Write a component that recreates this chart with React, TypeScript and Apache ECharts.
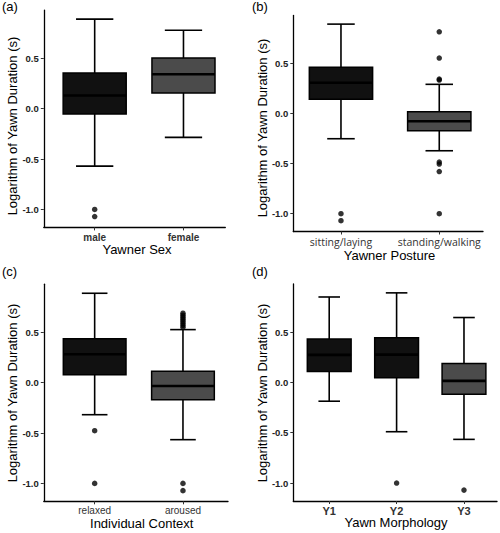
import React, { useEffect, useRef } from "react";
import * as echarts from "echarts";

// ---------- data ----------
// box stats: [lowerWhisker, Q1, median, Q3, upperWhisker]
const sexCats = ["male", "female"];
const sexStats = [
  [-0.57, -0.053, 0.13, 0.354, 0.888],
  [-0.285, 0.156, 0.341, 0.503, 0.778],
];
const sexOutliers = [
  [1, -1.0],
  [1, -1.07],
];

const postureCats = ["sitting/laying", "standing/walking"];
const postureStats = [
  [-0.252, 0.142, 0.307, 0.461, 0.892],
  [-0.372, -0.172, -0.078, 0.018, 0.291],
];
const postureOutliers = [
  [1, -1.0],
  [1, -1.07],
  [2, 0.815],
  [2, 0.553],
  [2, 0.334],
  [2, 0.344],
  [2, -0.485],
  [2, -0.505],
  [2, -0.58],
  [2, -1.0],
];

const contextCats = ["relaxed", "aroused"];
const contextStats = [
  [-0.318, 0.079, 0.282, 0.437, 0.888],
  [-0.566, -0.169, -0.033, 0.113, 0.527],
];
const contextOutliers = [
  [1, -0.477],
  [1, -1.0],
  [2, 0.55],
  [2, 0.57],
  [2, 0.59],
  [2, 0.61],
  [2, 0.63],
  [2, 0.65],
  [2, 0.67],
  [2, 0.69],
  [2, -1.0],
  [2, -1.072],
];

const morphCats = ["Y1", "Y2", "Y3"];
const morphStats = [
  [-0.187, 0.107, 0.273, 0.432, 0.848],
  [-0.49, 0.045, 0.276, 0.442, 0.889],
  [-0.566, -0.117, 0.015, 0.187, 0.644],
];
const morphOutliers = [
  [2, -1.0],
  [3, -1.07],
];

// fill shade index per box (0 = dark, 1 = grey)
const sexShade = [0, 1];
const postureShade = [0, 1];
const contextShade = [0, 1];
const morphShade = [0, 0, 1];

const yTicks = [-1, -0.5, 0, 0.5];
const panelLabels = ["(a)", "(b)", "(c)", "(d)"];
const xTitles = ["Yawner Sex", "Yawner Posture", "Individual Context", "Yawn Morphology"];
const yTitle = "Logarithm of Yawn Duration (s)";

// ---------- styling / layout ----------
const FILLS = ["#111111", "#4b4b4b"];
const FONT = "Liberation Sans, Arial, sans-serif";

type Panel = {
  cats: string[];
  stats: number[][];
  outliers: number[][];
  shade: number[];
  grid: { left: number; top: number; width: number; height: number };
  xRange: [number, number];
  boxW: number;
  capW: number;
  labelFont: any;
  labelMargin: number;
};

const panels: Panel[] = [
  {
    cats: sexCats,
    stats: sexStats,
    outliers: sexOutliers,
    shade: sexShade,
    grid: { left: 43.8, top: 10.1, width: 181.5, height: 217.3 },
    xRange: [0.427, 2.471],
    boxW: 0.71,
    capW: 0.42,
    labelFont: { fontFamily: FONT, fontWeight: "bold", fontSize: 10, color: "#333" },
    labelMargin: 5,
  },
  {
    cats: postureCats,
    stats: postureStats,
    outliers: postureOutliers,
    shade: postureShade,
    grid: { left: 293.3, top: 15.5, width: 189.7, height: 216 },
    xRange: [0.515, 2.445],
    boxW: 0.644,
    capW: 0.28,
    labelFont: { fontFamily: "Open Sans, sans-serif", fontWeight: "normal", fontSize: 10.5, color: "#333" },
    labelMargin: 5,
  },
  {
    cats: contextCats,
    stats: contextStats,
    outliers: contextOutliers,
    shade: contextShade,
    grid: { left: 43.8, top: 284.2, width: 184.2, height: 217.1 },
    xRange: [0.424, 2.51],
    boxW: 0.71,
    capW: 0.29,
    labelFont: { fontFamily: FONT, fontWeight: "normal", fontSize: 10, color: "#333" },
    labelMargin: 4,
  },
  {
    cats: morphCats,
    stats: morphStats,
    outliers: morphOutliers,
    shade: morphShade,
    grid: { left: 293.3, top: 283.9, width: 203.7, height: 217.1 },
    xRange: [0.467, 3.49],
    boxW: 0.65,
    capW: 0.32,
    labelFont: { fontFamily: FONT, fontWeight: "bold", fontSize: 11, color: "#333" },
    labelMargin: 4,
  },
];

const Y_MIN = -1.178;
const Y_MAX = 0.978;

const titlePos = {
  label: [
    [2, 0],
    [252, 0],
    [2, 265],
    [252, 265],
  ],
  y: [
    [12.5, 126],
    [262.5, 128],
    [12.5, 393],
    [262.5, 393],
  ],
  x: [
    [137, 249.5],
    [389.5, 255],
    [141.7, 523.3],
    [396, 522.5],
  ],
};

function buildOption() {
  const grid: any[] = [];
  const xAxis: any[] = [];
  const yAxis: any[] = [];
  const series: any[] = [];
  const graphic: any[] = [];

  panels.forEach((p, i) => {
    grid.push({ ...p.grid, containLabel: false });
    xAxis.push({
      type: "value",
      gridIndex: i,
      min: p.xRange[0],
      max: p.xRange[1],
      splitLine: { show: false },
      axisLine: { show: true, onZero: false, lineStyle: { color: "#000", width: 1.3 } },
      axisTick: {
        show: true,
        length: 3,
        customValues: p.cats.map((_, k) => k + 1),
        lineStyle: { color: "#333", width: 1 },
      },
      axisLabel: {
        show: true,
        margin: p.labelMargin,
        customValues: p.cats.map((_, k) => k + 1),
        formatter: (v: number) => p.cats[Math.round(v) - 1] ?? "",
        ...p.labelFont,
      },
    });
    yAxis.push({
      type: "value",
      gridIndex: i,
      min: Y_MIN,
      max: Y_MAX,
      splitLine: { show: false },
      axisLine: { show: true, onZero: false, lineStyle: { color: "#000", width: 1.3 } },
      axisTick: {
        show: true,
        length: 3,
        customValues: yTicks,
        lineStyle: { color: "#333", width: 1 },
      },
      axisLabel: {
        show: true,
        margin: 5,
        customValues: yTicks,
        formatter: (v: number) => v.toFixed(1),
        fontFamily: FONT,
        fontWeight: "bold",
        fontSize: 9.5,
        color: "#222",
      },
    });

    const boxData = p.stats.map((s, k) => [k + 1, s[0], s[1], s[2], s[3], s[4], p.shade[k]]);
    const boxW = p.boxW;
    const capW = p.capW;
    series.push({
      type: "custom",
      xAxisIndex: i,
      yAxisIndex: i,
      data: boxData,
      encode: { x: 0, y: [1, 2, 3, 4, 5] },
      renderItem: (params: any, api: any) => {
        const x = api.value(0);
        const lo = api.coord([x, api.value(1)]);
        const q1 = api.coord([x, api.value(2)]);
        const med = api.coord([x, api.value(3)]);
        const q3 = api.coord([x, api.value(4)]);
        const hi = api.coord([x, api.value(5)]);
        const shade = api.value(6);
        const bw = api.size([boxW, 0])[0];
        const cw = api.size([capW, 0])[0];
        const cx = lo[0];
        const ls = { stroke: "#000", lineWidth: 1.6 };
        return {
          type: "group",
          children: [
            { type: "line", shape: { x1: cx, y1: hi[1], x2: cx, y2: lo[1] }, style: ls },
            { type: "line", shape: { x1: cx - cw / 2, y1: hi[1], x2: cx + cw / 2, y2: hi[1] }, style: ls },
            { type: "line", shape: { x1: cx - cw / 2, y1: lo[1], x2: cx + cw / 2, y2: lo[1] }, style: ls },
            {
              type: "rect",
              shape: { x: cx - bw / 2, y: q3[1], width: bw, height: q1[1] - q3[1] },
              style: { fill: FILLS[shade], stroke: "#000", lineWidth: 1.5 },
            },
            {
              type: "line",
              shape: { x1: cx - bw / 2, y1: med[1], x2: cx + bw / 2, y2: med[1] },
              style: { stroke: "#000", lineWidth: 2.6 },
            },
          ],
        };
      },
      z: 2,
    });

    series.push({
      type: "scatter",
      xAxisIndex: i,
      yAxisIndex: i,
      data: p.outliers,
      symbol: "circle",
      symbolSize: 5.5,
      itemStyle: { color: "#000" },
      z: 3,
    });

    const lp = titlePos.label[i];
    graphic.push({
      type: "text",
      x: lp[0],
      y: lp[1],
      style: {
        text: panelLabels[i],
        font: `13px ${FONT}`,
        fill: "#000",
        textAlign: "left",
        textVerticalAlign: "top",
      },
    });
    const yp = titlePos.y[i];
    graphic.push({
      type: "text",
      x: yp[0],
      y: yp[1],
      rotation: Math.PI / 2,
      style: {
        text: yTitle,
        font: `13px ${FONT}`,
        fill: "#000",
        textAlign: "center",
        textVerticalAlign: "middle",
      },
    });
    const xp = titlePos.x[i];
    graphic.push({
      type: "text",
      x: xp[0],
      y: xp[1],
      style: {
        text: xTitles[i],
        font: `13px ${FONT}`,
        fill: "#000",
        textAlign: "center",
        textVerticalAlign: "middle",
      },
    });
  });

  return {
    animation: false,
    backgroundColor: "#fff",
    grid,
    xAxis,
    yAxis,
    series,
    graphic,
  };
}

export default function App() {
  const ref = useRef<HTMLDivElement>(null);
  useEffect(() => {
    document.body.style.margin = "0";
    if (!ref.current) return;
    const chart = echarts.init(ref.current, null, { renderer: "svg" });
    chart.setOption(buildOption() as any);
    return () => chart.dispose();
  }, []);
  return <div ref={ref} style={{ width: 500, height: 533 }} />;
}
